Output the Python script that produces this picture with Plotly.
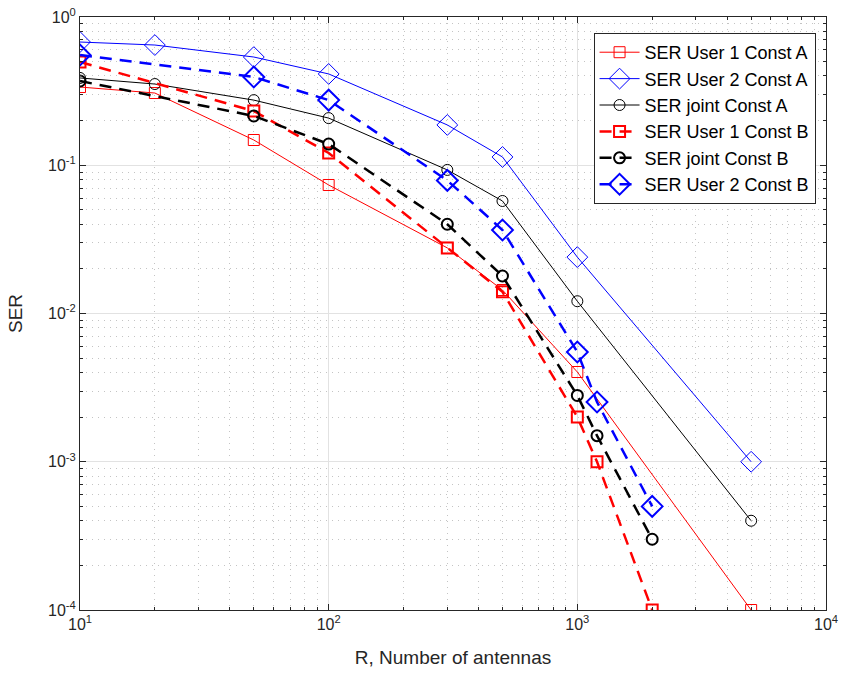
import plotly.graph_objects as go

R_A = [10, 20, 50, 100, 300, 500, 1000, 5000]
R_B = [10, 50, 100, 300, 500, 1000, 1200, 2000]

ser_u1_A = [0.337, 0.307, 0.148, 0.0736, 0.0277, 0.0144, 0.00403, 1.0e-4]
ser_u2_A = [0.678, 0.647, 0.537, 0.413, 0.187, 0.1137, 0.024, 1.0e-3]
ser_j_A = [0.388, 0.353, 0.275, 0.208, 0.093, 0.0574, 0.0121, 4.0e-4]
ser_u1_B = [0.497, 0.232, 0.121, 0.0277, 0.014, 0.002, 0.001, 1.0e-4]
ser_j_B = [0.37, 0.215, 0.139, 0.040, 0.0179, 0.0028, 0.0015, 3.0e-4]
ser_u2_B = [0.554, 0.394, 0.275, 0.079, 0.0366, 0.0055, 0.00253, 5.0e-4]

x_tickvals = [10, 100, 1000, 10000]
x_ticktext = ["10<sup>1</sup>", "10<sup>2</sup>", "10<sup>3</sup>", "10<sup>4</sup>"]
y_tickvals = [1e-4, 1e-3, 1e-2, 1e-1, 1]
y_ticktext = ["10<sup>-4</sup>", "10<sup>-3</sup>", "10<sup>-2</sup>", "10<sup>-1</sup>", "10<sup>0</sup>"]

x_minor = [k * 10 ** e for e in range(1, 4) for k in range(2, 10)]
y_minor = [k * 10.0 ** e for e in range(-4, 0) for k in range(2, 10)]

series = [
    ("SER User 1 Const A", R_A, ser_u1_A, "red", 1, "solid", "square-open", 11),
    ("SER User 2 Const A", R_A, ser_u2_A, "blue", 1, "solid", "diamond-open", 16),
    ("SER joint Const A", R_A, ser_j_A, "black", 1, "solid", "circle-open", 11),
    ("SER User 1 Const B", R_B, ser_u1_B, "red", 2.5, "12px,8px", "square-open", 11),
    ("SER joint Const B", R_B, ser_j_B, "black", 2.5, "12px,8px", "circle-open", 11),
    ("SER User 2 Const B", R_B, ser_u2_B, "blue", 2.5, "12px,8px", "diamond-open", 16),
]

FONT = "Liberation Sans, Arial, sans-serif"

fig = go.Figure()
for name, xs, ys, color, lw, dash, sym, ms in series:
    fig.add_trace(go.Scatter(
        x=xs, y=ys, name=name, mode="lines+markers",
        line=dict(color=color, width=lw, dash=dash),
        marker=dict(symbol=sym, size=ms, color=color,
                    line=dict(color=color, width=2 if lw > 1 else 1)),
    ))

def axis_common(minor_vals):
    return dict(
        showline=True, linecolor="#262626", linewidth=1, mirror="allticks",
        ticks="inside", ticklen=6, tickcolor="#262626",
        showgrid=True, gridcolor="#e2e2e2", gridwidth=1,
        zeroline=False,
        tickfont=dict(family=FONT, size=16, color="#262626"),
        minor=dict(tickvals=minor_vals, ticks="inside", ticklen=3, tickcolor="#262626",
                   showgrid=True, gridcolor="#c4c4c4", griddash="1px,5px", gridwidth=1),
    )

fig.update_xaxes(type="log", range=[1, 4], tickvals=x_tickvals, ticktext=x_ticktext,
                 title=dict(text="R, Number of antennas",
                            font=dict(family=FONT, size=19, color="#262626"),
                            standoff=18),
                 **axis_common(x_minor))
fig.update_yaxes(type="log", range=[-4, 0], tickvals=y_tickvals, ticktext=y_ticktext,
                 title=dict(text="SER",
                            font=dict(family=FONT, size=19, color="#262626"),
                            standoff=20),
                 **axis_common(y_minor))

fig.update_layout(
    width=845, height=675,
    margin=dict(l=80, r=19, t=17, b=65, autoexpand=False),
    plot_bgcolor="white", paper_bgcolor="white",
    font=dict(family=FONT, size=16, color="#262626"),
    legend=dict(x=0.986, y=0.973, xanchor="right", yanchor="top",
                bgcolor="white", bordercolor="#262626", borderwidth=1,
                font=dict(family=FONT, size=18, color="black"), tracegroupgap=0, itemwidth=40),
    showlegend=True,
)

fig.write_html("out.html")
